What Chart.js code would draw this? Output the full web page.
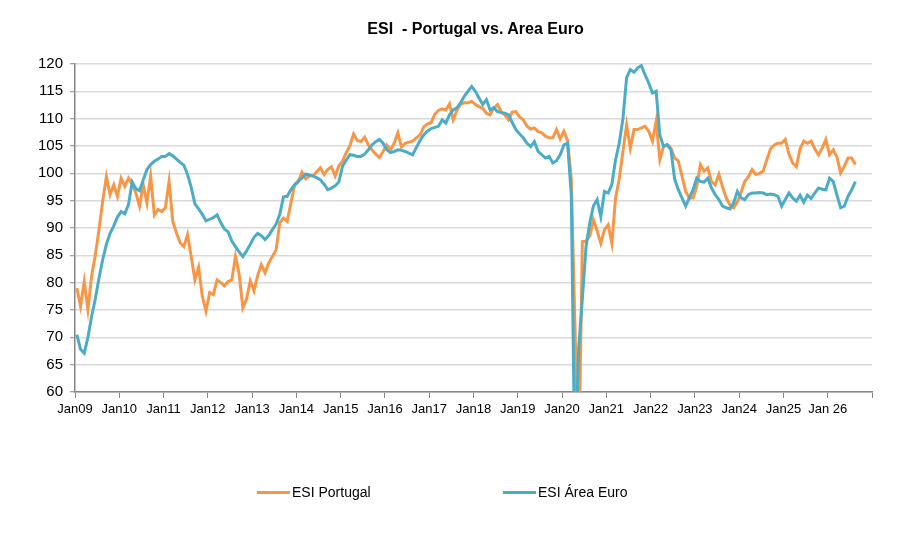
<!DOCTYPE html>
<html>
<head>
<meta charset="utf-8">
<script src="https://cdn.jsdelivr.net/npm/chart.js@4/dist/chart.umd.min.js"></script>
<style>
html,body{margin:0;padding:0;background:#fff;}
#wrap{position:relative;width:911px;height:536px;overflow:hidden;}
#c{position:absolute;left:0;top:0;}
#title{position:absolute;left:475.5px;top:19px;transform:translateX(-50%);white-space:pre;
  font-family:"Liberation Sans",Arial,sans-serif;font-weight:bold;font-size:16px;line-height:20px;color:#000;}
.lg{position:absolute;top:482px;height:20px;display:flex;align-items:center;
  font-family:"Liberation Sans",Arial,sans-serif;font-size:14px;color:#000;white-space:pre;}
.sw{width:33px;height:3px;margin-right:2px;}
</style>
</head>
<body>
<div id="wrap">
  <canvas id="c" width="911" height="536"></canvas>
  <div id="title">ESI  - Portugal vs. Area Euro</div>
</div>
<script>
// Year tick labels (one per January, last boundary unlabeled)
const xTickLabels = ['Jan09','Jan10','Jan11','Jan12','Jan13','Jan14','Jan15','Jan16','Jan17','Jan18',
  'Jan19','Jan20','Jan21','Jan22','Jan23','Jan24','Jan25','Jan 26',''];
const yTicksMin = 60, yTicksMax = 120, yStep = 5;
const seriesNames = ['ESI Portugal', 'ESI Área Euro'];
const seriesColors = ['#F79646', '#4BACC6'];

// Monthly values, Jan 2009 onward
const esiPortugal = [
  79, 75.7, 80.2, 75.1, 81.2, 85, 89.7, 94.9, 99.4, 96.1, 97.9, 95.8,
  99.1, 97.6, 99.1, 98, 96.4, 94, 97.9, 94.6, 99.5, 92.4, 93.4, 93,
  93.7, 98.5, 91.2, 89.1, 87.3, 86.6, 88.8, 84.8, 80.5, 82.8, 77.5, 74.8,
  78.2, 77.8, 80.5, 80, 79.4, 80.2, 80.5, 84.8, 81.5, 75.4, 77, 80.3,
  78.5, 81.3, 83.3, 81.8, 83.6, 84.8, 86, 91, 91.8, 91.2, 94.5, 97.8,
  98.4, 100.2, 99, 99.5, 99.6, 100.3, 101, 99.8, 100.7, 101.2, 99.5, 101.4,
  102.2, 103.8, 105, 107.2, 106, 105.8, 106.6, 105.2, 104.3, 103.5, 102.9, 104,
  105.2, 104.3, 105.5, 107.4, 104.8, 105.5, 105.7, 105.9, 106.5, 107, 108.5, 109,
  109.3, 110.8, 111.5, 111.8, 111.6, 112.7, 109.8, 111.5, 112.6, 112.9, 112.9, 113.2,
  112.6, 112.2, 111.9, 111, 110.7, 111.9, 112.6, 111.3, 110.7, 109.8, 111.2, 111.3,
  110.3, 109.8, 108.6, 108.1, 108.3, 107.6, 107.4, 106.8, 106.5, 106.5, 108, 106.3,
  107.7, 106, 99, 72, 45, 87.5, 87.6, 88.5, 91.5, 89.5, 87.2, 89.7,
  90.6, 87.2, 95.5, 99, 104, 108.9, 104.6, 108, 108, 108.3, 108.6, 107.7,
  105.9, 109.5, 102.5, 104.9, 105.3, 104.6, 102.8, 102.3, 99.5, 96.7, 95.5, 95.5,
  97.6, 101.6, 100.4, 101, 98.5, 97.9, 99.8, 97.5, 95.5, 94.2, 93.7, 94.8,
  96.5, 98.5, 99.4, 100.7, 99.8, 100, 100.4, 102.5, 104.5, 105.2, 105.5, 105.5,
  106.2, 103.5, 101.9, 101.2, 104.5, 105.9, 105.5, 105.9, 104.5, 103.4, 104.6, 106.2,
  103.4, 104.3, 103, 100.1, 101.3, 102.8, 102.8, 101.6
];
const esiEuroArea = [
  70.5, 67.8, 67.1, 70, 73.8, 77, 80.8, 84.2, 87, 89, 90.4, 92,
  93, 92.6, 94.3, 98.4, 97.2, 96.8, 98.8, 100.7, 101.6, 102.2, 102.6, 103.1,
  103.1, 103.6, 103.2, 102.6, 102, 101.5, 99.8, 97.4, 94.4, 93.5, 92.5, 91.3,
  91.6, 91.9, 92.4, 91, 89.8, 89.3, 87.6, 86.6, 85.6, 84.8, 85.8, 87,
  88.3, 89, 88.6, 87.9, 88.6, 89.7, 90.7, 92.5, 95.7, 95.8, 97, 97.9,
  98.6, 99.1, 99.9, 99.7, 99.5, 99.2, 98.8, 98, 97, 97.3, 97.7, 98.4,
  101.3, 102.4, 103.4, 103.3, 103.1, 103.1, 103.5, 104.3, 105.2, 105.8, 106.2, 105.5,
  104.3, 103.8, 104, 104.3, 104.2, 104, 103.7, 103.4, 104.7, 106, 107, 107.7,
  108.2, 108.4, 108.6, 109.8, 109.2, 110.7, 111.6, 112, 112.9, 114.1, 115, 115.9,
  115, 113.8, 112.6, 113.5, 111.6, 112, 111.3, 111.1, 111, 110.7, 109.3, 108,
  107.2, 106.5, 105.5, 104.9, 105.8, 104, 103.4, 102.8, 103.1, 101.9, 102.3, 103.4,
  105.2, 105.5, 96, 45, 68, 77, 86.6, 90.9, 94, 95.2, 92.1, 96.7,
  96.4, 98, 102.5, 105.5, 110, 117.5, 119, 118.5, 119.3, 119.7, 118, 116.5,
  114.7, 115, 107, 104.9, 105.2, 104.3, 99, 97, 95.5, 94, 95.5, 97,
  99.1, 98.5, 98.4, 99.1, 97.3, 96.1, 95.2, 94, 93.7, 93.5, 94.6, 96.7,
  95.5, 95.2, 96.1, 96.4, 96.4, 96.5, 96.4, 96.1, 96.2, 96.1, 95.8, 94,
  95.2, 96.4, 95.5, 94.9, 96, 94.7, 96, 95.4, 96.4, 97.3, 97.1, 97,
  99.1, 98.5, 96, 93.7, 94, 95.8, 97, 98.5
];

const monthsPerTick = 12;
const totalMonths = (xTickLabels.length - 1) * monthsPerTick;
// each monthly point sits in the middle of its month slot
const toPoints = arr => arr.map((v, i) => ({x: i + 0.5, y: v}));

const FONT = '"Liberation Sans", Arial, sans-serif';
const AXIS = '#868686';

const chart = new Chart(document.getElementById('c'), {
  type: 'line',
  data: {
    datasets: [
      {label: seriesNames[0], data: toPoints(esiPortugal), borderColor: seriesColors[0],
       backgroundColor: seriesColors[0], borderWidth: 3, pointRadius: 0, tension: 0, order: 2},
      {label: seriesNames[1], data: toPoints(esiEuroArea), borderColor: seriesColors[1],
       backgroundColor: seriesColors[1], borderWidth: 3, pointRadius: 0, tension: 0, order: 1}
    ]
  },
  options: {
    responsive: false,
    animation: false,
    devicePixelRatio: 1,
    layout: {padding: {left: 0, right: 39, top: 64, bottom: 114}},
    plugins: {legend: {display: false}, title: {display: false}, tooltip: {enabled: false}},
    scales: {
      x: {
        type: 'linear',
        min: 0, max: totalMonths,
        afterFit: s => { s.height = 30; },
        ticks: {
          stepSize: monthsPerTick, autoSkip: false, maxRotation: 0, padding: 4,
          color: '#000', font: {family: FONT, size: 13},
          callback: v => { const k = Math.round(v / monthsPerTick); return xTickLabels[k] ?? ''; }
        },
        grid: {drawOnChartArea: false, drawTicks: true, tickLength: 6, tickColor: AXIS, tickWidth: 1},
        border: {color: AXIS, width: 1.5}
      },
      y: {
        min: yTicksMin, max: yTicksMax,
        afterFit: s => { s.width = 75; },
        ticks: {stepSize: yStep, padding: 7, color: '#000', font: {family: FONT, size: 15}},
        grid: {color: '#d9d9d9', lineWidth: 1.5, drawTicks: true, tickLength: 5, tickColor: AXIS, tickWidth: 1},
        border: {color: AXIS, width: 1.5}
      }
    }
  }
});

// HTML legend built from the chart's datasets
const legendX = [257, 503];
chart.data.datasets.forEach((ds, i) => {
  const item = document.createElement('div');
  item.className = 'lg';
  item.style.left = legendX[i] + 'px';
  const sw = document.createElement('span');
  sw.className = 'sw';
  sw.style.background = ds.borderColor;
  const tx = document.createElement('span');
  tx.textContent = ds.label;
  item.appendChild(sw); item.appendChild(tx);
  document.getElementById('wrap').appendChild(item);
});
</script>
</body>
</html>
